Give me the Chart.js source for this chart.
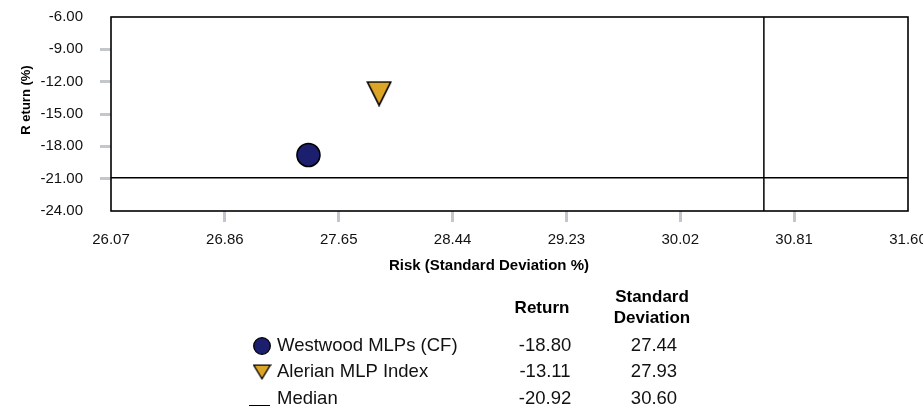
<!DOCTYPE html>
<html>
<head>
<meta charset="utf-8">
<title>Risk vs Return</title>
<script src="https://cdn.jsdelivr.net/npm/chart.js@4.4.1/dist/chart.umd.min.js"></script>
<style>
  html, body { margin: 0; padding: 0; background: #ffffff; }
  #wrap { position: relative; width: 923px; height: 409px; }
  canvas { display: block; }
</style>
</head>
<body>
<div id="wrap"><canvas id="chart" width="923" height="409"></canvas></div>
<script>
// Risk / return figures
const seriesNames = ['Westwood MLPs (CF)', 'Alerian MLP Index'];
const riskValues = [27.44, 27.93];      // standard deviation %
const returnValues = [-18.80, -13.11];  // return %
const medianLabel = 'Median';
const medianReturn = -20.92;
const medianRisk = 30.60;

// Axis ticks
const xTickValues = [26.07, 26.86, 27.65, 28.44, 29.23, 30.02, 30.81, 31.60];
const yTickValues = [-6, -9, -12, -15, -18, -21, -24];
const xTitle = 'Risk (Standard Deviation %)';
const yTitle = 'R eturn (%)';
const headerReturn = 'Return';
const headerStdDev = ['Standard', 'Deviation'];

const NAVY = '#1c1e6e';
const GOLD = '#dca526';
const TICK_GREY = '#c3c7cb';
const FONT = '"Liberation Sans", Arial, Helvetica, sans-serif';

const xMin = xTickValues[0], xMax = xTickValues[xTickValues.length - 1];
const yMin = Math.min(...yTickValues), yMax = Math.max(...yTickValues);

// Downward triangle marker as a small canvas
function makeTriangle(w, h, lw) {
  const c = document.createElement('canvas');
  c.width = w; c.height = h;
  const g = c.getContext('2d');
  const p = lw / 2 + 0.5;
  g.beginPath();
  g.moveTo(p, p);
  g.lineTo(w - p, p);
  g.lineTo(w / 2, h - p);
  g.closePath();
  g.fillStyle = GOLD;
  g.fill();
  g.lineWidth = lw;
  g.strokeStyle = '#000';
  g.lineJoin = 'miter';
  g.stroke();
  return c;
}
const triBig = makeTriangle(26, 26, 1.6);
const triSmall = makeTriangle(19, 16, 1.3);

// Frame around the plot area
const framePlugin = {
  id: 'frame',
  afterDatasetsDraw(chart) {
    const { ctx, chartArea: a } = chart;
    ctx.save();
    ctx.strokeStyle = '#000';
    ctx.lineWidth = 1.6;
    ctx.strokeRect(a.left, a.top, a.right - a.left, a.bottom - a.top);
    ctx.restore();
  }
};

const titlesPlugin = {
  id: 'axisTitles',
  afterDraw(chart) {
    const { ctx } = chart;
    ctx.save();
    ctx.fillStyle = '#000';
    ctx.font = 'bold 15px ' + FONT;
    ctx.textAlign = 'center';
    ctx.textBaseline = 'alphabetic';
    ctx.fillText(xTitle, 489, 270);
    ctx.translate(30, 100);
    ctx.rotate(-Math.PI / 2);
    ctx.font = 'bold 13px ' + FONT;
    ctx.fillText(yTitle, 0, 0);
    ctx.restore();
  }
};

// Stats table under the plot
const tablePlugin = {
  id: 'statsTable',
  afterDraw(chart) {
    const { ctx } = chart;
    const colReturn = 545;
    const colStd = 654;
    const rowBase = [351, 377, 404];
    ctx.save();
    ctx.fillStyle = '#000';
    ctx.textBaseline = 'alphabetic';
    ctx.textAlign = 'center';
    ctx.font = 'bold 17px ' + FONT;
    ctx.fillText(headerReturn, 542, 313);
    ctx.fillText(headerStdDev[0], 652, 302);
    ctx.fillText(headerStdDev[1], 652, 323);

    const rows = [
      { name: seriesNames[0], ret: returnValues[0], risk: riskValues[0] },
      { name: seriesNames[1], ret: returnValues[1], risk: riskValues[1] },
      { name: medianLabel, ret: medianReturn, risk: medianRisk }
    ];
    ctx.font = '18.5px ' + FONT;
    rows.forEach((r, i) => {
      ctx.textAlign = 'left';
      ctx.fillStyle = '#111';
      ctx.fillText(r.name, 277, rowBase[i]);
      ctx.textAlign = 'center';
      ctx.fillText(r.ret.toFixed(2), colReturn, rowBase[i]);
      ctx.fillText(r.risk.toFixed(2), colStd, rowBase[i]);
    });

    // markers
    ctx.beginPath();
    ctx.arc(262, 346, 8.3, 0, Math.PI * 2);
    ctx.fillStyle = NAVY;
    ctx.fill();
    ctx.lineWidth = 1.3;
    ctx.strokeStyle = '#000';
    ctx.stroke();
    ctx.drawImage(triSmall, 262 - triSmall.width / 2, 372 - triSmall.height / 2);
    ctx.beginPath();
    ctx.moveTo(249, 405.5);
    ctx.lineTo(270, 405.5);
    ctx.lineWidth = 1;
    ctx.stroke();
    ctx.restore();
  }
};

const edgeTransparent = (ctx, n) =>
  (ctx.index === 0 || ctx.index === n - 1) ? 'rgba(0,0,0,0)' : TICK_GREY;

new Chart(document.getElementById('chart'), {
  type: 'scatter',
  data: {
    datasets: [
      {
        label: medianLabel + ' return',
        data: [{ x: xMin, y: medianReturn }, { x: xMax, y: medianReturn }],
        showLine: true, borderColor: '#000', borderWidth: 1.5,
        pointRadius: 0, order: 3
      },
      {
        label: medianLabel + ' risk',
        data: [{ x: medianRisk, y: yMin }, { x: medianRisk, y: yMax }],
        showLine: true, borderColor: '#000', borderWidth: 1.5,
        pointRadius: 0, order: 3
      },
      {
        label: seriesNames[0],
        data: [{ x: riskValues[0], y: returnValues[0] }],
        pointStyle: 'circle', pointRadius: 11.5,
        backgroundColor: NAVY, borderColor: '#000', borderWidth: 1.6, order: 1
      },
      {
        label: seriesNames[1],
        data: [{ x: riskValues[1], y: returnValues[1] }],
        pointStyle: triBig, pointRadius: 13, order: 1
      }
    ]
  },
  options: {
    responsive: false,
    animation: false,
    events: [],
    layout: { padding: { left: 0, right: 15, top: 17, bottom: 148 } },
    plugins: { legend: { display: false }, tooltip: { enabled: false } },
    scales: {
      x: {
        type: 'linear',
        min: xMin, max: xMax,
        afterBuildTicks(scale) { scale.ticks = xTickValues.map(v => ({ value: v })); },
        afterFit(scale) { scale.height = 50; scale.paddingLeft = 0; scale.paddingRight = 0; },
        border: { display: false },
        grid: {
          drawOnChartArea: false, drawTicks: true, tickLength: 11, tickWidth: 3,
          tickColor: c => edgeTransparent(c, xTickValues.length)
        },
        ticks: {
          autoSkip: false, maxRotation: 0, padding: 9, color: '#111',
          font: { family: FONT, size: 15 },
          callback: v => Number(v).toFixed(2)
        }
      },
      y: {
        type: 'linear',
        min: yMin, max: yMax,
        afterBuildTicks(scale) { scale.ticks = yTickValues.slice().sort((a, b) => a - b).map(v => ({ value: v })); },
        afterFit(scale) { scale.width = 111; scale.paddingTop = 0; scale.paddingBottom = 0; },
        border: { display: false },
        grid: {
          drawOnChartArea: false, drawTicks: true, tickLength: 11, tickWidth: 3,
          tickColor: c => edgeTransparent(c, yTickValues.length)
        },
        ticks: {
          padding: 17, color: '#111',
          font: { family: FONT, size: 15 },
          callback: v => Number(v).toFixed(2)
        }
      }
    }
  },
  plugins: [framePlugin, titlesPlugin, tablePlugin]
});
</script>
</body>
</html>
